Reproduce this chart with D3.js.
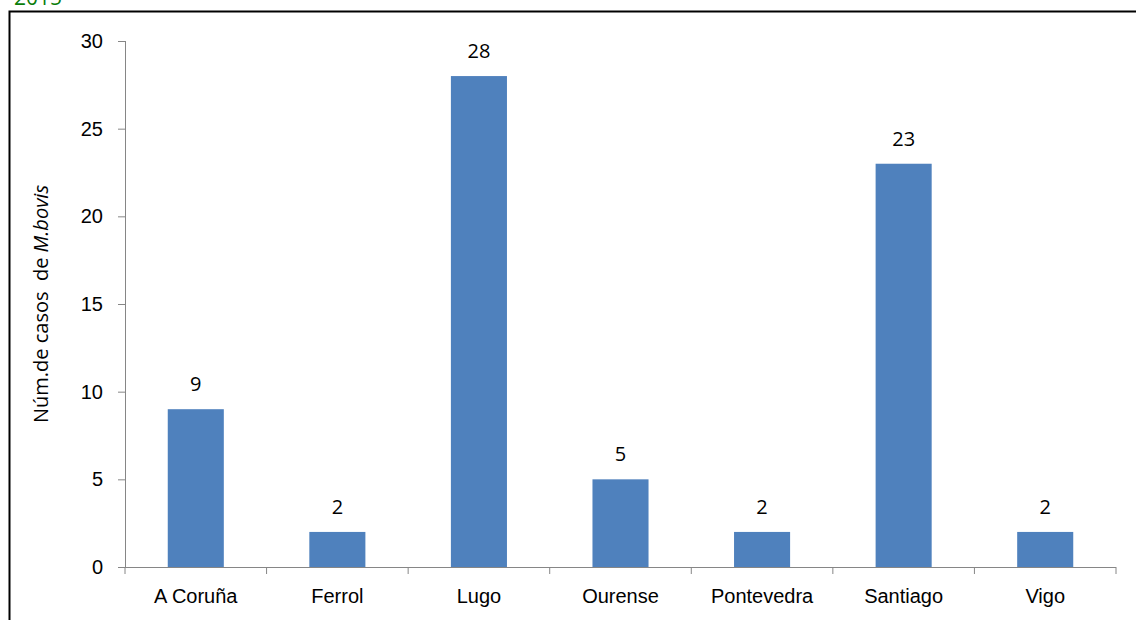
<!DOCTYPE html>
<html>
<head>
<meta charset="utf-8">
<script src="https://cdn.jsdelivr.net/npm/d3@7"></script>
<style>
  body { margin: 0; background: #fff; }
  svg { display: block; font-family: "Open Sans", "Liberation Sans", sans-serif; }
</style>
</head>
<body>
<svg width="1136" height="620"></svg>
<script>
const categories = ["A Coruña", "Ferrol", "Lugo", "Ourense", "Pontevedra", "Santiago", "Vigo"];
const casos = [9, 2, 28, 5, 2, 23, 2];
const yTicks = [0, 5, 10, 15, 20, 25, 30];

const svg = d3.select("svg");
const margin = {top: 41, left: 125, right: 20, bottom: 53};
const width = +svg.attr("width");
const height = +svg.attr("height");
const fs = 20;

// green year heading, cut at the top
svg.append("text")
    .attr("x", 14)
    .attr("y", 5)
    .attr("font-size", 21)
    .attr("fill", "#0a7d0a")
    .text("2015");

// frame
svg.append("path")
    .attr("d", "M9.5,625 V11.5 H1140")
    .attr("fill", "none")
    .attr("stroke", "#000")
    .attr("stroke-width", 2);

const x = d3.scaleBand()
    .domain(categories)
    .range([margin.left, 1116])
    .paddingInner(0.604)
    .paddingOuter(0.302);

const y = d3.scaleLinear()
    .domain([0, 30])
    .range([height - margin.bottom, margin.top]);

const xAxis = svg.append("g")
    .attr("transform", `translate(0,${y(0)})`)
    .call(d3.axisBottom(x).tickSize(0).tickPadding(22));
xAxis.select(".domain").attr("stroke", "#868686").attr("d", `M${margin.left},0.5H1116`);
xAxis.selectAll("text").attr("font-size", fs).attr("fill", "#000");

// category boundary ticks
const step = x.step();
xAxis.selectAll(".bound")
    .data(d3.range(categories.length + 1))
    .enter().append("line")
        .attr("x1", i => margin.left + i * step)
        .attr("x2", i => margin.left + i * step)
        .attr("y1", 0)
        .attr("y2", 7)
        .attr("stroke", "#868686");

const yAxis = svg.append("g")
    .attr("transform", `translate(${margin.left},0)`)
    .call(d3.axisLeft(y).tickValues(yTicks).tickSize(7).tickPadding(15));
yAxis.select(".domain").attr("stroke", "#868686").attr("d", `M0.5,${y(30)}V${y(0)}`);
yAxis.selectAll(".tick line").attr("stroke", "#868686");
yAxis.selectAll("text").attr("font-size", fs).attr("fill", "#000");

svg.append("text")
    .attr("transform", `translate(48,${(y(0) + y(30)) / 2}) rotate(-90)`)
    .attr("text-anchor", "middle")
    .attr("font-size", fs)
    .attr("xml:space", "preserve")
    .html('Núm.de casos  de <tspan font-style="italic">M.bovis</tspan>');

const data = categories.map((c, i) => ({cat: c, val: casos[i]}));

svg.append("g")
    .selectAll("rect")
    .data(data)
    .enter().append("rect")
        .attr("x", d => x(d.cat))
        .attr("y", d => y(d.val))
        .attr("width", x.bandwidth())
        .attr("height", d => y(0) - y(d.val))
        .attr("fill", "#4F81BD");

svg.append("g")
    .selectAll("text")
    .data(data)
    .enter().append("text")
        .attr("x", d => x(d.cat) + x.bandwidth() / 2)
        .attr("y", d => y(d.val) - 18)
        .attr("text-anchor", "middle")
        .attr("font-size", fs)
        .text(d => d.val);
</script>
</body>
</html>
